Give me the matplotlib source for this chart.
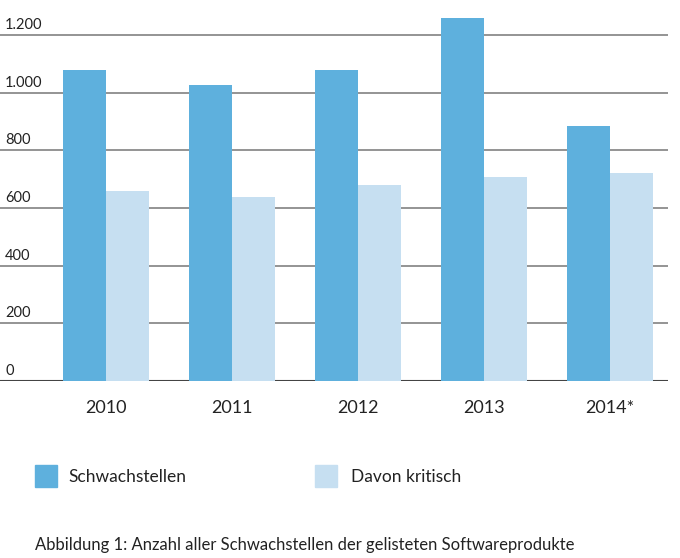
import matplotlib
matplotlib.use("Agg")
import matplotlib.pyplot as plt
from matplotlib.patches import Rectangle

years = ["2010", "2011", "2012", "2013", "2014*"]
schwachstellen = [1080, 1025, 1080, 1260, 885]
kritisch = [660, 638, 680, 708, 720]
yticks = [0, 200, 400, 600, 800, 1000, 1200]
ytick_labels = ["0", "200", "400", "600", "800", "1.000", "1.200"]

plt.rcParams["font.family"] = "Lato"
W, H = 680, 558
fig = plt.figure(figsize=(W/100, H/100), dpi=100)
ax = fig.add_axes([0, 1-381/H, 668/W, (381-15)/H])
ymax = (381-15)/(346/1200)
ax.set_ylim(0, ymax)
ax.set_xlim(-106/126, (668-106)/126)
for s in ax.spines.values():
    s.set_visible(False)
ax.set_xticks([]); ax.set_yticks([])
for t in yticks:
    ax.axhline(t, color="#444444" if t == 0 else "#777777", lw=1.5 if t == 0 else 1.1, zorder=0)
w = 43/126
x = range(len(years))
ax.bar([i - w/2 for i in x], schwachstellen, width=w, color="#5eb0dd", zorder=2)
ax.bar([i + w/2 for i in x], kritisch, width=w, color="#c6dff1", zorder=2)
for t, l in zip(yticks, ytick_labels):
    ax.annotate(l, xy=(0, t), xycoords=("axes fraction", "data"), xytext=(5, 3),
                textcoords="offset pixels", fontsize=10.5, color="#222222", va="bottom", ha="left")
for i, y in enumerate(years):
    fig.text((106+126*i)/W, 1-408/H, y, fontsize=13, ha="center", va="center", color="#222222")
fig.patches.append(Rectangle((35/W, 1-487/H), 22/W, 22/H, transform=fig.transFigure, color="#5eb0dd", figure=fig))
fig.text(68/W, 1-477/H, "Schwachstellen", fontsize=12.5, va="center", color="#222222")
fig.patches.append(Rectangle((315/W, 1-487/H), 22/W, 22/H, transform=fig.transFigure, color="#c6dff1", figure=fig))
fig.text(351/W, 1-477/H, "Davon kritisch", fontsize=12.5, va="center", color="#222222")
fig.text(35/W, 1-545/H, "Abbildung 1: Anzahl aller Schwachstellen der gelisteten Softwareprodukte",
         fontsize=12, va="center", color="#222222")
fig.savefig("out.png", dpi=100)
